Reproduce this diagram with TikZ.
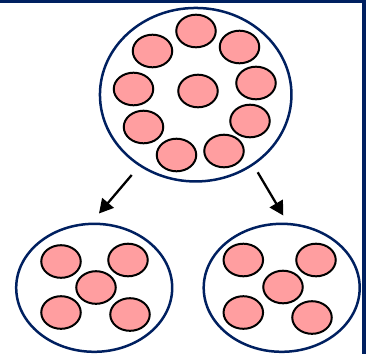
\documentclass[tikz,border=0pt]{standalone}
\usetikzlibrary{shapes.geometric,arrows.meta}
\definecolor{navy}{RGB}{0,32,96}
\definecolor{cellpink}{RGB}{255,158,160}
\begin{document}
\begin{tikzpicture}[x=1pt,y=-1pt]
\tikzstyle{cell} = [draw, ellipse, fill=cellpink, line width=2pt, inner sep=0pt, minimum width=39.5pt, minimum height=32.6pt];
\tikzstyle{group} = [draw=navy, ellipse, line width=2.5pt, inner sep=0pt];
\tikzstyle{split} = [-{Triangle[length=14pt,width=15pt]}, line width=2.3pt];
\useasboundingbox (0,0) rectangle (374,354);
\draw[navy, line width=3.2pt] (0,1.5) -- (364,1.5) -- (364,354);
% parent
\node[group, minimum width=191.5pt, minimum height=173.5pt] (p) at (195.7,94.7) {};
\node[cell] (p1) at (196,31) {};
\node[cell] (p2) at (152.5,51) {};
\node[cell] (p3) at (239.5,47) {};
\node[cell] (p4) at (133.5,89) {};
\node[cell] (p5) at (198,91) {};
\node[cell] (p6) at (256,83) {};
\node[cell] (p7) at (143.5,127) {};
\node[cell] (p8) at (250,121) {};
\node[cell] (p9) at (176.5,155) {};
\node[cell] (p10) at (224,151) {};
% daughters
\node[group, minimum width=156pt, minimum height=128pt] (l) at (94.2,287.8) {};
\node[cell] (l1) at (61,261.5) {};
\node[cell] (l2) at (128,260) {};
\node[cell] (l3) at (96,287.5) {};
\node[cell] (l4) at (61,312.5) {};
\node[cell] (l5) at (130,314.5) {};
\node[group, minimum width=156pt, minimum height=128pt] (r) at (281.7,287.8) {};
\node[cell] (r1) at (243.3,260) {};
\node[cell] (r2) at (316,260) {};
\node[cell] (r3) at (283,287) {};
\node[cell] (r4) at (243.3,312.5) {};
\node[cell] (r5) at (312,317.5) {};
% arrows
\coordinate (a1) at (131.7,175);
\coordinate (b1) at (99,213.5);
\coordinate (a2) at (257.7,172.3);
\coordinate (b2) at (283.3,215.5);
\draw[split] (a1) -- (b1);
\draw[split] (a2) -- (b2);
\end{tikzpicture}
\end{document}
